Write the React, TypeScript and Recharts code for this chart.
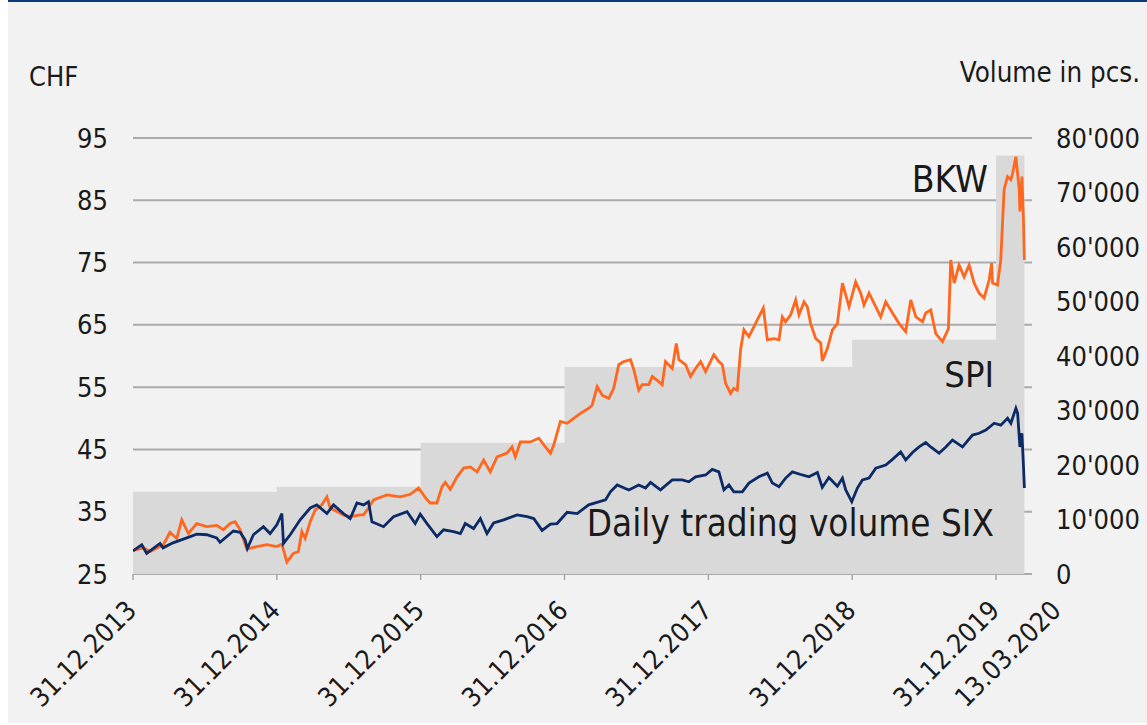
import React from 'react';
import { ComposedChart, Area, Line, XAxis, YAxis, CartesianGrid } from 'recharts';

const FONT = "'DejaVu Sans Condensed', 'DejaVu Sans', sans-serif";
const TEXT = '#1a1a1a';

// x values are decimal years (2014.0 = 31.12.2013)
const xTicks = [2014, 2015, 2016, 2017, 2018, 2019, 2020, 2020.197];
const xTickLabels = ['31.12.2013', '31.12.2014', '31.12.2015', '31.12.2016', '31.12.2017', '31.12.2018', '31.12.2019', '13.03.2020'];
const chfTicks = [25, 35, 45, 55, 65, 75, 85, 95];
const volumeTicks = [0, 10000, 20000, 30000, 40000, 50000, 60000, 70000, 80000];

// average daily trading volume per year (pcs.)
const volume: [number, number][] = [
  [2014, 15100], [2015, 16000], [2016, 24100], [2017, 38000], [2018, 38000],
  [2019, 43000], [2020, 76800], [2020.197, 76800],
];

// BKW share price, CHF
const bkw: [number, number][] = [
  [2014.0, 28.8], [2014.072, 29.2], [2014.118, 28.6], [2014.211, 29.7], [2014.257, 31.7], [2014.304, 30.7],
  [2014.339, 33.7], [2014.385, 31.5], [2014.443, 33.1], [2014.513, 32.6], [2014.582, 32.8], [2014.628, 32.1],
  [2014.675, 33.1], [2014.71, 33.4], [2014.745, 32.1], [2014.791, 29.0], [2014.861, 29.4], [2014.93, 29.7],
  [2015.0, 29.4], [2015.035, 29.8], [2015.07, 26.9], [2015.115, 28.3], [2015.15, 28.6], [2015.174, 31.8],
  [2015.197, 30.7], [2015.232, 33.4], [2015.267, 35.3], [2015.313, 36.1], [2015.348, 37.4], [2015.371, 35.6],
  [2015.463, 34.5], [2015.51, 34.2], [2015.58, 34.5], [2015.603, 34.5], [2015.637, 35.6], [2015.672, 36.9],
  [2015.765, 37.7], [2015.858, 37.4], [2015.928, 37.8], [2015.985, 38.8], [2016.044, 36.9], [2016.067, 36.4],
  [2016.113, 36.4], [2016.148, 39.0], [2016.171, 39.7], [2016.206, 38.6], [2016.253, 40.6], [2016.299, 42.0],
  [2016.345, 42.2], [2016.392, 41.4], [2016.438, 43.3], [2016.484, 41.4], [2016.531, 43.8], [2016.6, 44.4],
  [2016.635, 45.4], [2016.658, 43.8], [2016.693, 46.2], [2016.763, 46.2], [2016.821, 46.8], [2016.867, 45.4],
  [2016.902, 44.4], [2016.925, 45.7], [2016.971, 49.5], [2017.018, 49.2], [2017.064, 50.0], [2017.111, 50.8],
  [2017.168, 51.6], [2017.192, 52.1], [2017.227, 55.1], [2017.262, 53.7], [2017.308, 53.2], [2017.342, 54.8],
  [2017.377, 58.6], [2017.412, 59.1], [2017.459, 59.4], [2017.482, 57.8], [2017.516, 54.5], [2017.54, 55.4],
  [2017.586, 55.4], [2017.61, 56.7], [2017.644, 56.1], [2017.679, 55.4], [2017.702, 59.1], [2017.749, 58.0],
  [2017.777, 62.0], [2017.795, 59.4], [2017.841, 58.6], [2017.876, 56.7], [2017.911, 58.0], [2017.946, 59.1],
  [2017.981, 57.5], [2018.038, 60.2], [2018.073, 59.1], [2018.097, 58.6], [2018.12, 55.6], [2018.154, 54.0],
  [2018.177, 54.8], [2018.201, 54.5], [2018.224, 61.0], [2018.247, 64.2], [2018.282, 63.1], [2018.317, 64.7],
  [2018.351, 66.3], [2018.382, 67.7], [2018.41, 62.6], [2018.456, 62.8], [2018.491, 62.6], [2018.514, 66.3],
  [2018.537, 65.5], [2018.572, 66.6], [2018.607, 69.0], [2018.63, 66.6], [2018.665, 68.7], [2018.688, 67.9],
  [2018.711, 65.2], [2018.746, 62.8], [2018.781, 62.1], [2018.792, 59.2], [2018.827, 61.2], [2018.862, 64.2],
  [2018.897, 65.2], [2018.932, 71.7], [2018.978, 67.9], [2019.024, 71.9], [2019.059, 70.1], [2019.082, 68.2],
  [2019.117, 70.1], [2019.164, 67.9], [2019.198, 66.3], [2019.233, 68.7], [2019.28, 66.9], [2019.326, 65.2],
  [2019.372, 63.9], [2019.407, 69.0], [2019.442, 66.3], [2019.489, 65.5], [2019.511, 66.9], [2019.546, 67.4],
  [2019.581, 63.6], [2019.628, 62.3], [2019.669, 64.4], [2019.685, 75.4], [2019.709, 71.7], [2019.743, 74.6],
  [2019.778, 72.7], [2019.813, 74.6], [2019.848, 71.7], [2019.882, 70.1], [2019.917, 69.3], [2019.952, 72.2],
  [2019.969, 74.9], [2019.976, 71.7], [2020.01, 71.4], [2020.033, 75.4], [2020.056, 86.7], [2020.08, 88.8],
  [2020.103, 88.3], [2020.115, 89.3], [2020.138, 92.0], [2020.161, 86.7], [2020.166, 83.2], [2020.18, 88.8],
  [2020.19, 82.4], [2020.197, 75.4],
];

// SPI, rebased to the BKW price at 31.12.2013
const spi: [number, number][] = [
  [2014.0, 28.7], [2014.061, 29.7], [2014.095, 28.3], [2014.188, 29.9], [2014.209, 29.2], [2014.278, 30.0],
  [2014.374, 30.8], [2014.443, 31.4], [2014.513, 31.3], [2014.582, 30.8], [2014.605, 30.1], [2014.698, 31.9],
  [2014.745, 31.7], [2014.779, 30.5], [2014.795, 29.1], [2014.837, 31.3], [2014.907, 32.6], [2014.953, 31.5],
  [2015.0, 32.9], [2015.035, 34.7], [2015.046, 29.9], [2015.093, 31.3], [2015.162, 33.7], [2015.232, 35.6],
  [2015.278, 36.1], [2015.348, 34.7], [2015.394, 36.1], [2015.463, 34.7], [2015.51, 33.9], [2015.557, 36.4],
  [2015.603, 36.1], [2015.637, 36.6], [2015.661, 33.4], [2015.742, 32.6], [2015.811, 34.2], [2015.905, 35.0],
  [2015.962, 33.1], [2015.997, 34.6], [2016.044, 33.1], [2016.113, 31.0], [2016.159, 32.1], [2016.229, 31.8],
  [2016.276, 31.5], [2016.31, 33.1], [2016.368, 32.3], [2016.415, 33.9], [2016.461, 31.5], [2016.507, 33.2],
  [2016.577, 33.7], [2016.67, 34.5], [2016.74, 34.2], [2016.786, 33.9], [2016.844, 32.0], [2016.902, 33.0],
  [2016.948, 33.1], [2017.018, 34.9], [2017.088, 34.7], [2017.168, 36.1], [2017.285, 36.9], [2017.319, 38.2],
  [2017.366, 39.3], [2017.447, 38.5], [2017.516, 39.3], [2017.563, 38.8], [2017.598, 39.7], [2017.667, 38.5],
  [2017.749, 40.1], [2017.818, 40.1], [2017.864, 39.8], [2017.911, 40.6], [2017.981, 40.9], [2018.027, 41.8],
  [2018.073, 41.4], [2018.108, 38.5], [2018.143, 39.3], [2018.177, 38.2], [2018.236, 38.2], [2018.282, 39.6],
  [2018.351, 40.6], [2018.41, 41.2], [2018.445, 39.6], [2018.491, 39.0], [2018.537, 40.4], [2018.584, 41.4],
  [2018.653, 40.9], [2018.699, 40.6], [2018.758, 41.3], [2018.792, 38.9], [2018.838, 40.5], [2018.897, 39.1],
  [2018.932, 40.4], [2018.955, 38.5], [2018.997, 36.6], [2019.036, 38.8], [2019.071, 40.1], [2019.117, 40.4],
  [2019.164, 42.0], [2019.233, 42.5], [2019.28, 43.4], [2019.337, 44.6], [2019.372, 43.3], [2019.419, 44.5],
  [2019.465, 45.4], [2019.511, 46.1], [2019.546, 45.4], [2019.604, 44.4], [2019.651, 45.4], [2019.697, 46.5],
  [2019.767, 45.4], [2019.836, 47.3], [2019.882, 47.6], [2019.929, 48.1], [2019.987, 49.2], [2020.033, 48.9],
  [2020.08, 50.0], [2020.103, 49.2], [2020.138, 51.6], [2020.15, 50.8], [2020.166, 45.4], [2020.18, 47.6],
  [2020.19, 42.7], [2020.197, 38.8],
];

const toRows = (pts: [number, number][]) => pts.map(([t, v]) => ({ t, v }));
const fmtVolume = (v: number) => (v === 0 ? '0' : `${Math.round(v / 1000)}'000`);

const DateTick = (props: any) => {
  const { x, y, payload } = props;
  const i = xTicks.indexOf(payload.value);
  const last = i === xTicks.length - 1;
  const tx = x + (last ? 38 : 5);
  const ty = y + 38;
  return (
    <g>
      {!last && <line x1={x} y1={y} x2={x} y2={y + 6} stroke="#a6a6a6" strokeWidth={1.5} />}
      <text x={tx} y={ty} textAnchor="end" transform={`rotate(-45 ${tx} ${ty})`} fill={TEXT} fontSize={26.5} fontFamily={FONT}>
        {xTickLabels[i]}
      </text>
    </g>
  );
};

export default function App() {
  const tickStyle = { fill: TEXT, fontSize: 27, fontFamily: FONT };
  return (
    <div style={{ position: 'absolute', top: 0, left: 8, width: 1139, height: 723, background: '#f2f2f2', overflow: 'hidden' }}>
      <div style={{ position: 'absolute', top: 0, left: 0, width: 1139, height: 2, background: '#0b3a7a' }} />
      <ComposedChart width={1139} height={725} margin={{ top: 138, right: 0, bottom: 0, left: 0 }}>
        <CartesianGrid yAxisId="left" vertical={false} stroke="#ababab" strokeWidth={2} />
        <XAxis
          dataKey="t"
          type="number"
          domain={[2014, 2020.25]}
          ticks={xTicks}
          interval={0}
          height={151}
          axisLine={false}
          tickLine={false}
          tickSize={0}
          tickMargin={0}
          tick={<DateTick />}
          allowDataOverflow
        />
        <YAxis
          yAxisId="left"
          domain={[25, 95]}
          ticks={chfTicks}
          width={125}
          axisLine={false}
          tickLine={false}
          tickSize={0}
          tickMargin={25}
          tick={tickStyle}
        />
        <YAxis
          yAxisId="right"
          orientation="right"
          domain={[0, 80000]}
          ticks={volumeTicks}
          width={115}
          axisLine={false}
          tickLine={false}
          tickSize={0}
          tickMargin={24}
          tick={tickStyle}
          tickFormatter={fmtVolume}
        />
        <Area
          yAxisId="right"
          data={toRows(volume)}
          dataKey="v"
          type="stepAfter"
          stroke="none"
          fill="#d9d9d9"
          fillOpacity={1}
          isAnimationActive={false}
        />
        <Line yAxisId="left" data={toRows(bkw)} dataKey="v" type="linear" stroke="#ff671f" strokeWidth={2.8} dot={false} isAnimationActive={false} />
        <Line yAxisId="left" data={toRows(spi)} dataKey="v" type="linear" stroke="#0c2a66" strokeWidth={2.8} dot={false} isAnimationActive={false} />
      </ComposedChart>
      <svg width={1139} height={725} style={{ position: 'absolute', top: 0, left: 0, pointerEvents: 'none' }} fontFamily={FONT} fill={TEXT}>
        <text x={21} y={86} fontSize={27}>CHF</text>
        <text x={1132} y={82} fontSize={27.5} textAnchor="end">Volume in pcs.</text>
        <text x={980} y={192} fontSize={37} textAnchor="end">BKW</text>
        <text x={986} y={387} fontSize={36} textAnchor="end">SPI</text>
        <text x={986} y={536} fontSize={36.5} textAnchor="end">Daily trading volume SIX</text>
      </svg>
    </div>
  );
}
